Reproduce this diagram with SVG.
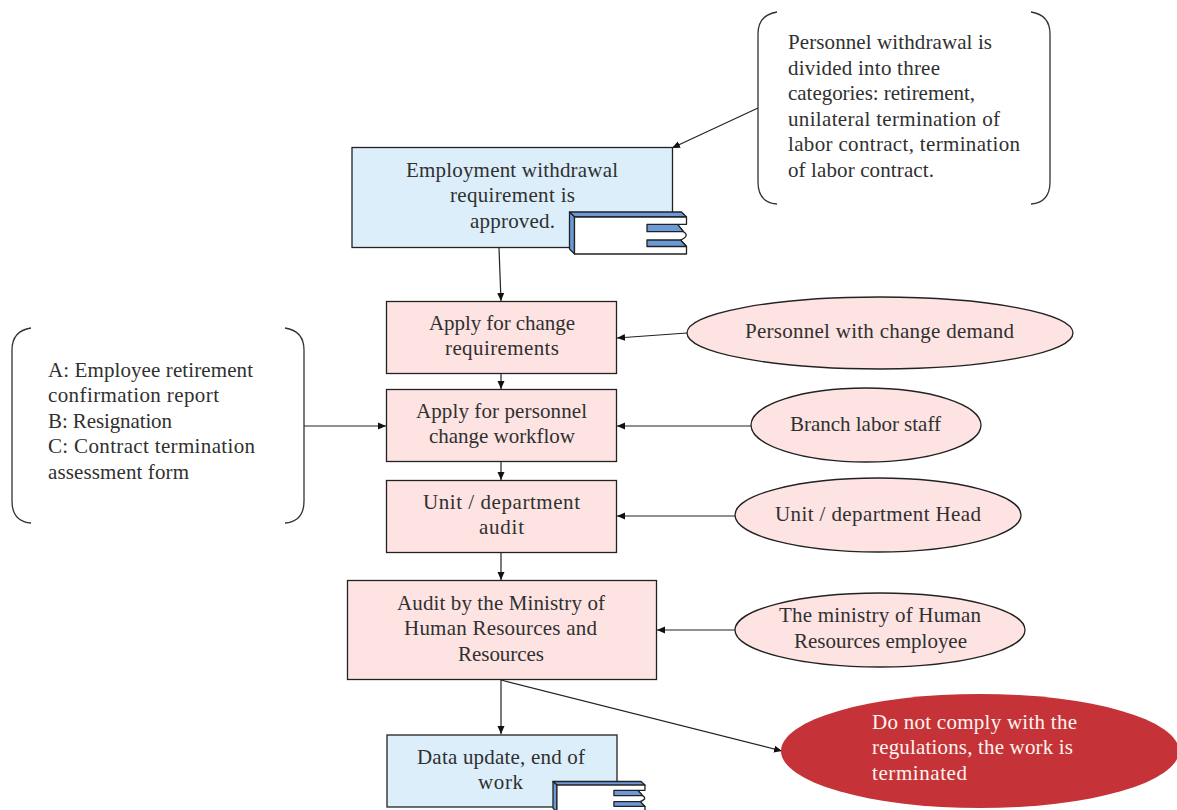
<svg xmlns="http://www.w3.org/2000/svg" width="1177" height="810" viewBox="0 0 1177 810">
<style>
text{font-family:"Liberation Serif","DejaVu Serif",serif;font-size:21px;fill:#303030}
.w{fill:#fdf3ef}
.b{fill:#dbeefa;stroke:#222;stroke-width:1.3}
.p{fill:#fee3e3;stroke:#222;stroke-width:1.3}
.e{fill:#fde3e2;stroke:#222;stroke-width:1.3}
.br{fill:none;stroke:#333;stroke-width:1.3}
.c{fill:none;stroke:#222;stroke-width:1.2;marker-end:url(#a)}
.d1{fill:#6b9ad6;stroke:#222;stroke-width:1.3;stroke-linejoin:round;vector-effect:non-scaling-stroke}
.d2{fill:#fff;stroke:#222;stroke-width:1.3;stroke-linejoin:round;vector-effect:non-scaling-stroke}
</style>
<defs>
<marker id="a" markerUnits="userSpaceOnUse" markerWidth="9" markerHeight="8" refX="8" refY="4" orient="auto"><path d="M0 0.5L8 4L0 7.500Z" fill="#111"/></marker>
<g id="doc">
<path class="d1" d="M0 0L112 0L117 5L5 5Z"/>
<path class="d1" d="M0 0L5 5L5 42L0 37Z"/>
<path class="d2" d="M5 5L117 5L117 12.300L108 12.300L114 19.700C118 22 118 25 111 28L117 34.500L117 42L5 42Z"/>
<path class="d1" d="M77.500 12.300L108 12.300L114 19.700L77.500 19.700Z"/>
<path class="d1" d="M77.500 28L111 28L117 34.500L77.500 34.500Z"/>
</g>
</defs>

<g id="connectors">
<path class="c" d="M758 108L672 148"/>
<path class="c" d="M499 248L501 301"/>
<path class="c" d="M687 333L617 338"/>
<path class="c" d="M501 374L501 389"/>
<path class="c" d="M304 426L386 426"/>
<path class="c" d="M751 426L617 426"/>
<path class="c" d="M501 462L501 480"/>
<path class="c" d="M735 516L617 516"/>
<path class="c" d="M501 552L501 580"/>
<path class="c" d="M735 630L657 630"/>
<path class="c" d="M501 680L501 734"/>
<path class="c" d="M501 680L782 751"/>
</g>

<g id="n-approved">
<rect class="b" x="352" y="147.500" width="320.500" height="100"/>
<text x="406" y="177" textLength="212">Employment withdrawal</text>
<text x="450" y="202" textLength="125">requirement is</text>
<text x="470" y="228" textLength="85">approved.</text>
<use href="#doc" x="569.500" y="212"/>
</g>

<g id="n-categories">
<path class="br" d="M777 12C764 14 758 22 758 34L758 182C758 195 764 203 777 204"/>
<path class="br" d="M1031 12C1044 14 1050 22 1050 34L1050 182C1050 195 1044 203 1031 204"/>
<text x="788" y="49" textLength="204">Personnel withdrawal is</text>
<text x="788" y="74.500" textLength="152">divided into three</text>
<text x="788" y="100" textLength="187">categories: retirement,</text>
<text x="788" y="125.500" textLength="212">unilateral termination of</text>
<text x="788" y="151" textLength="232">labor contract, termination</text>
<text x="788" y="177" textLength="146">of labor contract.</text>
</g>

<g id="n-apply-change">
<rect class="p" x="386.500" y="301.500" width="230" height="72"/>
<text x="429" y="330" textLength="146">Apply for change</text>
<text x="445" y="355" textLength="114">requirements</text>
</g>

<g id="n-demand">
<ellipse class="e" cx="880" cy="333" rx="193" ry="36"/>
<text x="745" y="338" textLength="269">Personnel with change demand</text>
</g>

<g id="n-forms">
<path class="br" d="M31 328C18 330 12 338 12 350L12 501C12 514 18 522 31 523"/>
<path class="br" d="M285 328C298 330 304 338 304 350L304 501C304 514 298 522 285 523"/>
<text x="48" y="377" textLength="205">A: Employee retirement</text>
<text x="48" y="402" textLength="171">confirmation report</text>
<text x="48" y="428" textLength="124">B: Resignation</text>
<text x="48" y="453" textLength="207">C: Contract termination</text>
<text x="48" y="479" textLength="141">assessment form</text>
</g>

<g id="n-workflow">
<rect class="p" x="386.500" y="389.500" width="230" height="72"/>
<text x="416" y="418" textLength="171">Apply for personnel</text>
<text x="429" y="443" textLength="146">change workflow</text>
</g>

<g id="n-labor">
<ellipse class="e" cx="866" cy="425" rx="115" ry="37"/>
<text x="790" y="431" textLength="151">Branch labor staff</text>
</g>

<g id="n-unit">
<rect class="p" x="386.500" y="480.500" width="230" height="72"/>
<text x="423" y="509" textLength="157">Unit / department</text>
<text x="479" y="534" textLength="45">audit</text>
</g>

<g id="n-head">
<ellipse class="e" cx="878" cy="515" rx="143" ry="37"/>
<text x="775" y="521" textLength="206">Unit / department Head</text>
</g>

<g id="n-ministry">
<rect class="p" x="347.500" y="580.500" width="309" height="99"/>
<text x="397" y="610" textLength="208">Audit by the Ministry of</text>
<text x="404" y="635" textLength="193">Human Resources and</text>
<text x="458" y="661" textLength="86">Resources</text>
</g>

<g id="n-employee">
<ellipse class="e" cx="880" cy="630" rx="145" ry="37"/>
<text x="779" y="622" textLength="202">The ministry of Human</text>
<text x="794" y="648" textLength="173">Resources employee</text>
</g>

<g id="n-update">
<rect class="b" x="387" y="735" width="230" height="72"/>
<text x="417" y="764" textLength="168">Data update, end of</text>
<text x="478" y="789" textLength="45">work</text>
<use href="#doc" transform="translate(553 781.500) scale(.786 .72)"/>
</g>

<g id="n-terminated">
<ellipse cx="980" cy="751" rx="199" ry="57" fill="#c53338"/>
<text class="w" x="872" y="729" textLength="205">Do not comply with the</text>
<text class="w" x="872" y="754" textLength="201">regulations, the work is</text>
<text class="w" x="872" y="780" textLength="95">terminated</text>
</g>
</svg>
